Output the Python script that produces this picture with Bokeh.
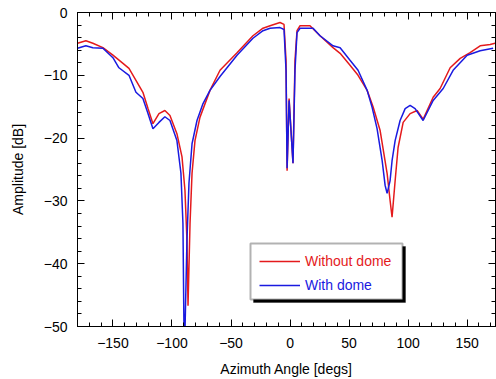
from bokeh.plotting import figure
from bokeh.models import (LinearAxis, SingleIntervalTicker, Range1d, Legend, LegendItem,
                          BoxAnnotation)
from bokeh.embed import file_html
from bokeh.resources import INLINE

# Without dome (red)
red_deg = [-180, -172.9, -167, -158.5, -150, -141.5, -136.4, -130.5, -124.6, -120.3, -116.1,
           -111, -106, -101.7, -95.8, -91.5, -89, -87.3, -86.4, -84.7, -83, -80.5, -76.3,
           -67.8, -59.3, -44.9, -31.4, -22.9, -16.9, -8.5, -5.1, -3.4, -2.5, -0.8, 0.8, 2.5,
           4.2, 5.9, 8.5, 16.9, 25.4, 36.4, 42.4, 50.8, 57.6, 65.3, 70.3, 76.3, 82.2, 84.7,
           86.4, 89, 91.5, 95.8, 101.7, 107.6, 112.7, 121.2, 127.1, 135.6, 144.1, 152.5,
           161, 169.5, 175.4]
red_db = [-4.9, -4.5, -4.9, -5.6, -6.8, -8.1, -8.9, -10.8, -12.7, -15.3, -17.7,
          -16.1, -15.6, -16.4, -19.3, -23.0, -28.3, -36.3, -46.7, -33.6, -25.6, -20.4, -16.7,
          -12.4, -9.2, -6.4, -3.7, -2.5, -2.1, -1.6, -1.9, -7.6, -25.2, -13.7, -18.8, -24.0,
          -7.6, -2.9, -2.1, -2.1, -3.7, -5.6, -6.5, -8.4, -10.0, -12.4, -15.0, -18.8, -25.6, -29.9,
          -32.6, -26.8, -21.5, -17.5, -16.1, -15.6, -17.0, -13.5, -12.1, -8.8, -7.3, -6.4,
          -5.3, -5.1, -4.8]

# With dome (blue)
blue_deg = [-180, -172.9, -167, -158.5, -150, -144.9, -136.4, -130.5, -124.6, -120.3, -116.1,
            -111, -106, -101.7, -95.8, -92.4, -90.7, -89.8, -89, -87.3, -85.6, -83, -78.8,
            -73.7, -67.8, -59.3, -44.9, -31.4, -22.9, -16.9, -8.5, -5.1, -3.4, -2.5, -0.8, 0.8,
            2.5, 4.2, 5.9, 8.5, 19.5, 25.4, 36.4, 42.4, 50.8, 57.6, 65.3, 69.5, 73.7, 78, 80.5,
            82.2, 84.7, 86.4, 89, 93.2, 97.5, 101.7, 105.9, 112.7, 121.2, 129.7, 138.1, 150,
            161, 172]
blue_db = [-5.7, -5.3, -5.6, -5.7, -7.2, -8.8, -10.0, -12.7, -13.7, -16.1, -18.5,
           -17.5, -16.6, -17.2, -20.4, -25.6, -33.6, -51.0, -51.0, -36.3, -27.2, -20.9, -17.2,
           -14.5, -12.4, -10.2, -6.8, -4.1, -2.9, -2.5, -2.4, -2.7, -9.2, -24.8, -14.0, -18.8,
           -24.0, -9.2, -3.2, -2.5, -2.5, -3.7, -5.3, -5.6, -7.6, -9.2, -12.4, -15.1, -18.5, -23.6, -27.5,
           -28.8, -26.8, -23.6, -20.4, -17.2, -15.3, -14.8, -15.3, -17.2, -14.0, -12.1, -9.2, -6.8,
           -6.1, -5.7]

series_labels = ["Without dome", "With dome"]
x_ticks_interval = 50
y_ticks_interval = 10

RED = "#e41a1c"
BLUE = "#1a1ae0"
FONT = "Liberation Sans"

p = figure(width=496, height=379, output_backend="svg", toolbar_location=None,
           x_range=Range1d(-180, 174), y_range=Range1d(-50, 0),
           x_axis_type=None, y_axis_type=None,
           min_border_left=77, min_border_right=1, min_border_top=12, min_border_bottom=53)
p.grid.visible = False
p.outline_line_color = "black"
p.outline_line_width = 1
p.background_fill_color = "white"
p.border_fill_color = "white"


def style_axis(ax, labels=True):
    ax.major_tick_in = 7
    ax.major_tick_out = 0
    ax.minor_tick_in = 4
    ax.minor_tick_out = 0
    ax.axis_line_color = "black"
    ax.major_tick_line_color = "black"
    ax.minor_tick_line_color = "black"
    ax.major_label_text_font = FONT
    ax.axis_label_text_font = FONT
    ax.axis_label_text_font_size = "14px"
    ax.axis_label_text_font_style = "normal"
    ax.axis_label_text_color = "black"
    if labels:
        ax.major_label_text_font_size = "14px"
        ax.major_label_text_color = "black"
        ax.major_label_standoff = 11
    else:
        ax.major_label_text_font_size = "0px"
        ax.major_label_text_color = None
        ax.major_label_standoff = 0


xb = LinearAxis(ticker=SingleIntervalTicker(interval=x_ticks_interval, num_minor_ticks=5),
                axis_label="Azimuth Angle [degs]")
style_axis(xb)
xb.axis_label_standoff = 10
p.add_layout(xb, "below")

xt = LinearAxis(ticker=SingleIntervalTicker(interval=x_ticks_interval, num_minor_ticks=5))
style_axis(xt, labels=False)
p.add_layout(xt, "above")

yl = LinearAxis(ticker=SingleIntervalTicker(interval=y_ticks_interval, num_minor_ticks=5),
                axis_label="Amplitude [dB]")
style_axis(yl)
yl.major_label_standoff = 10
yl.axis_label_standoff = 15
p.add_layout(yl, "left")

yr = LinearAxis(ticker=SingleIntervalTicker(interval=y_ticks_interval, num_minor_ticks=5))
style_axis(yr, labels=False)
p.add_layout(yr, "right")

lr = p.line(red_deg, red_db, line_color=RED, line_width=1.5)
lb = p.line(blue_deg, blue_db, line_color=BLUE, line_width=1.5)

# legend box with shadow (screen units, relative to the frame)
shadow = BoxAnnotation(left=176, right=328, top=80, bottom=24,
                       left_units="screen", right_units="screen",
                       top_units="screen", bottom_units="screen",
                       fill_color="black", fill_alpha=1, line_color="black")
box = BoxAnnotation(left=173, right=325, top=83, bottom=27,
                    left_units="screen", right_units="screen",
                    top_units="screen", bottom_units="screen",
                    fill_color="white", fill_alpha=1, line_color="black", line_width=2)
p.add_layout(shadow)
p.add_layout(box)

for rend, lab, col, yloc in [(lr, series_labels[0], RED, 57), (lb, series_labels[1], BLUE, 33)]:
    lg = Legend(items=[LegendItem(label=lab, renderers=[rend])], location=(182, yloc),
                glyph_width=41, glyph_height=16, label_height=16, label_standoff=5,
                padding=0, margin=0, spacing=0,
                border_line_alpha=0, background_fill_alpha=0,
                label_text_font=FONT, label_text_font_size="14px", label_text_color=col)
    p.add_layout(lg, "center")

open("out.html", "w").write(file_html(p, INLINE))
